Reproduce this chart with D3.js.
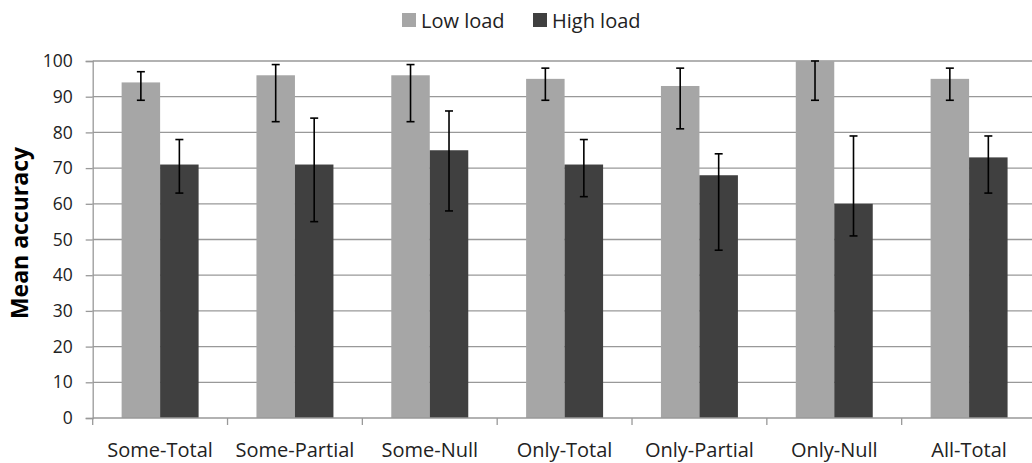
<!DOCTYPE html>
<html>
<head>
<meta charset="utf-8">
<script src="https://cdn.jsdelivr.net/npm/d3@7"></script>
<style>
  body { margin: 0; background: #fff; }
  svg { display: block; font-family: "Open Sans", sans-serif; }
</style>
</head>
<body>
<svg id="chart" width="1032" height="463"></svg>
<script>
const categories = ["Some-Total", "Some-Partial", "Some-Null", "Only-Total", "Only-Partial", "Only-Null", "All-Total"];
const series = ["Low load", "High load"];
const lowLoad = [94, 96, 96, 95, 93, 100, 95];
const lowUpper = [97, 99, 99, 98, 98, 100, 98];
const lowLower = [89, 83, 83, 89, 81, 89, 89];
const highLoad = [71, 71, 75, 71, 68, 60, 73];
const highUpper = [78, 84, 86, 78, 74, 79, 79];
const highLower = [63, 55, 58, 62, 47, 51, 63];
const yTicks = d3.range(0, 101, 10);

const colors = { "Low load": "#a6a6a6", "High load": "#404040" };

const svg = d3.select("#chart"),
    width = +svg.attr("width");

const plotLeft = 92.7, plotRight = 1036.5, plotTop = 61, plotBottom = 418;

// one row per bar, built from the arrays above
const rows = [];
categories.forEach(function(c, i) {
  rows.push({ cat: c, s: "Low load", v: lowLoad[i], hi: lowUpper[i], lo: lowLower[i] });
  rows.push({ cat: c, s: "High load", v: highLoad[i], hi: highUpper[i], lo: highLower[i] });
});

const x = d3.scaleBand().domain(categories).range([plotLeft, plotRight]).padding(0);
const bw = x.bandwidth();
const xs = d3.scaleBand().domain(series).range([bw * 0.2145, bw * 0.7855]).padding(0);
const y = d3.scaleLinear().domain([0, 100]).range([plotBottom, plotTop]);

// gridlines
svg.append("g")
  .selectAll("line")
  .data(yTicks.filter(function(t) { return t > 0; }))
  .enter().append("line")
    .attr("x1", plotLeft).attr("x2", width)
    .attr("y1", function(d) { return y(d); }).attr("y2", function(d) { return y(d); })
    .attr("stroke", "#999").attr("stroke-width", 1.3);

// y axis
const yAxis = svg.append("g")
    .attr("transform", "translate(" + plotLeft + ",0)")
    .call(d3.axisLeft(y).tickValues(yTicks).tickSize(7).tickPadding(13));
yAxis.select(".domain").attr("stroke", "#999").attr("stroke-width", 1.3);
yAxis.selectAll(".tick line").attr("stroke", "#999").attr("stroke-width", 1.3);
yAxis.selectAll("text").attr("font-size", 17.5).attr("fill", "#222").attr("font-family", "Open Sans");

// bars
svg.append("g")
  .selectAll("rect")
  .data(rows)
  .enter().append("rect")
    .attr("x", function(d) { return x(d.cat) + xs(d.s); })
    .attr("width", xs.bandwidth())
    .attr("y", function(d) { return y(d.v); })
    .attr("height", function(d) { return y(0) - y(d.v); })
    .attr("fill", function(d) { return colors[d.s]; });

// error bars
const eb = svg.append("g")
  .selectAll("g")
  .data(rows)
  .enter().append("g")
    .attr("transform", function(d) { return "translate(" + (x(d.cat) + xs(d.s) + xs.bandwidth() / 2) + ",0)"; })
    .attr("stroke", "#000").attr("stroke-width", 1.6);
eb.append("line")
    .attr("y1", function(d) { return y(d.hi); }).attr("y2", function(d) { return y(d.lo); });
eb.append("line")
    .attr("x1", -4).attr("x2", 4)
    .attr("y1", function(d) { return y(d.hi); }).attr("y2", function(d) { return y(d.hi); });
eb.append("line")
    .attr("x1", -4).attr("x2", 4)
    .attr("y1", function(d) { return y(d.lo); }).attr("y2", function(d) { return y(d.lo); });

// x axis
const xAxisG = svg.append("g");
xAxisG.append("line")
    .attr("x1", plotLeft).attr("x2", width)
    .attr("y1", plotBottom).attr("y2", plotBottom)
    .attr("stroke", "#999").attr("stroke-width", 1.3);
xAxisG.selectAll(".xt")
  .data(categories)
  .enter().append("line")
    .attr("class", "xt")
    .attr("x1", function(d) { return x(d); }).attr("x2", function(d) { return x(d); })
    .attr("y1", plotBottom).attr("y2", plotBottom + 7)
    .attr("stroke", "#999").attr("stroke-width", 1.3);
xAxisG.selectAll("text")
  .data(categories)
  .enter().append("text")
    .attr("x", function(d) { return x(d) + bw / 2; })
    .attr("y", 457)
    .attr("text-anchor", "middle")
    .attr("font-size", 20)
    .attr("fill", "#222")
    .text(function(d) { return d; });

// y title
svg.append("text")
    .attr("transform", "translate(28," + 233 + ") rotate(-90)")
    .attr("text-anchor", "middle")
    .attr("font-size", 23)
    .attr("font-weight", "bold")
    .attr("fill", "#000")
    .text("Mean accuracy");

// legend
const legendX = [402, 533];
const leg = svg.append("g")
  .selectAll("g")
  .data(series)
  .enter().append("g")
    .attr("transform", function(d, i) { return "translate(" + legendX[i] + ",13)"; });
leg.append("rect")
    .attr("width", 14).attr("height", 14)
    .attr("fill", function(d) { return colors[d]; });
leg.append("text")
    .attr("x", 19).attr("y", 14.5)
    .attr("font-size", 20)
    .attr("fill", "#222")
    .text(function(d) { return d; });
</script>
</body>
</html>
